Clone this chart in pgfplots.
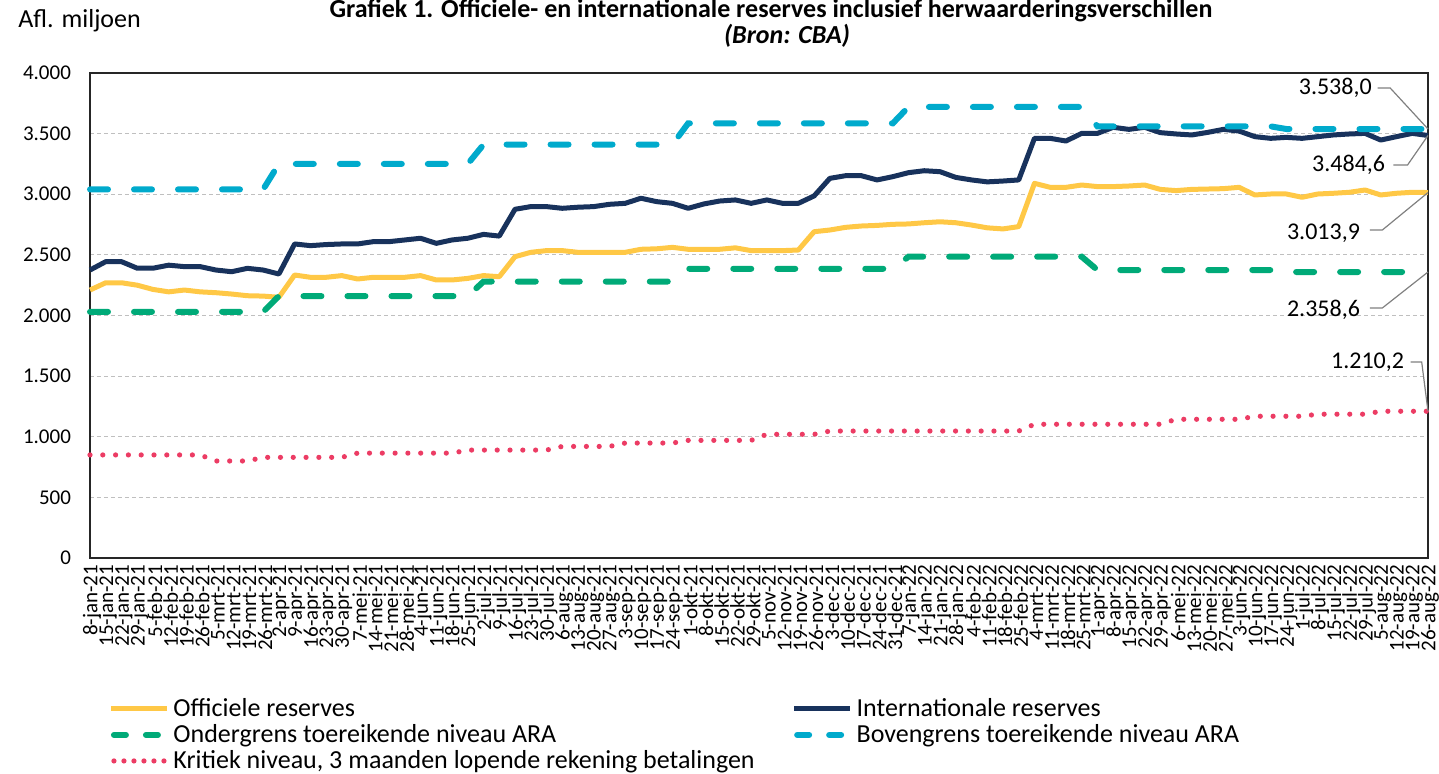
\documentclass[border=0pt]{standalone}
\usepackage{pgfplots}
\usepackage{pgfplotstable}
\pgfplotsset{compat=1.18}
\usepackage{fontspec}
\setmainfont{Carlito}

\definecolor{officieel}{RGB}{255,200,70}
\definecolor{internat}{RGB}{24,50,92}
\definecolor{onder}{RGB}{0,170,120}
\definecolor{boven}{RGB}{0,170,204}
\definecolor{kritiek}{RGB}{236,60,100}

\pgfplotsset{
  legsolid/.style={legend image code/.code={\draw[##1] (0pt,0pt) -- (28pt,0pt);}},
  legdash/.style={legend image code/.code={\draw[##1, dash pattern=on 6pt off 10pt] (1.5pt,0pt) -- (26.5pt,0pt);}},
  legdot/.style={legend image code/.code={\draw[##1, dash pattern=on 0pt off 5pt] (1.5pt,0pt) -- (27pt,0pt);}},
}

% weekly values, Afl. miljoen
\pgfplotstableread{
i  lab        off     int     ond     bov     krit
0  8-jan-21   2210    2375    2030    3040    850
1  15-jan-21  2270    2444    2030    3040    850
2  22-jan-21  2270    2444    2030    3040    850
3  29-jan-21  2250    2390    2030    3040    850
4  5-feb-21   2215    2390    2030    3040    850
5  12-feb-21  2195    2415    2030    3040    850
6  19-feb-21  2210    2403    2030    3040    850
7  26-feb-21  2195    2403    2030    3040    850
8  5-mrt-21   2188    2375    2030    3040    800
9  12-mrt-21  2177    2361    2030    3040    800
10 19-mrt-21  2163    2389    2030    3040    800
11 26-mrt-21  2160    2375    2030    3040    830
12 2-apr-21   2150    2342    2160    3250    830
13 9-apr-21   2334    2590    2160    3250    830
14 16-apr-21  2315    2576    2160    3250    830
15 23-apr-21  2315    2585    2160    3250    830
16 30-apr-21  2329    2590    2160    3250    830
17 7-mei-21   2301    2590    2160    3250    865
18 14-mei-21  2315    2609    2160    3250    865
19 21-mei-21  2315    2609    2160    3250    865
20 28-mei-21  2315    2623    2160    3250    865
21 4-jun-21   2329    2637    2160    3250    865
22 11-jun-21  2293    2595    2160    3250    865
23 18-jun-21  2293    2623    2160    3250    865
24 25-jun-21  2306    2637    2160    3250    890
25 2-jul-21   2329    2669    2280    3410    890
26 9-jul-21   2320    2655    2280    3410    890
27 16-jul-21  2485    2876    2280    3410    890
28 23-jul-21  2521    2898    2280    3410    890
29 30-jul-21  2535    2898    2280    3410    890
30 6-aug-21   2535    2884    2280    3410    920
31 13-aug-21  2521    2893    2280    3410    920
32 20-aug-21  2521    2898    2280    3410    920
33 27-aug-21  2521    2917    2280    3410    920
34 3-sep-21   2521    2925    2280    3410    948
35 10-sep-21  2546    2967    2280    3410    948
36 17-sep-21  2550    2939    2280    3410    948
37 24-sep-21  2562    2925    2280    3410    948
38 1-okt-21   2546    2884    2385    3585    970
39 8-okt-21   2546    2920    2385    3585    970
40 15-okt-21  2546    2944    2385    3585    970
41 22-okt-21  2558    2953    2385    3585    970
42 29-okt-21  2535    2925    2385    3585    970
43 5-nov-21   2535    2953    2385    3585    1020
44 12-nov-21  2535    2925    2385    3585    1020
45 19-nov-21  2540    2925    2385    3585    1020
46 26-nov-21  2691    2986    2385    3585    1020
47 3-dec-21   2705    3131    2385    3585    1047
48 10-dec-21  2727    3153    2385    3585    1047
49 17-dec-21  2738    3153    2385    3585    1047
50 24-dec-21  2743    3118    2385    3585    1047
51 31-dec-21  2752    3145    2385    3585    1047
52 7-jan-22   2755    3178    2485    3720    1047
53 14-jan-22  2765    3194    2485    3720    1047
54 21-jan-22  2773    3186    2485    3720    1047
55 28-jan-22  2765    3139    2485    3720    1047
56 4-feb-22   2746    3118    2485    3720    1047
57 11-feb-22  2723    3102    2485    3720    1047
58 18-feb-22  2714    3109    2485    3720    1047
59 25-feb-22  2733    3118    2485    3720    1047
60 4-mrt-22   3090    3461    2485    3720    1103
61 11-mrt-22  3057    3461    2485    3720    1103
62 18-mrt-22  3057    3439    2485    3720    1103
63 25-mrt-22  3076    3502    2485    3720    1103
64 1-apr-22   3063    3502    2375    3560    1103
65 8-apr-22   3063    3552    2375    3560    1103
66 15-apr-22  3068    3535    2375    3560    1103
67 22-apr-22  3076    3552    2375    3560    1103
68 29-apr-22  3040    3508    2375    3560    1103
69 6-mei-22   3030    3497    2375    3560    1144
70 13-mei-22  3040    3489    2375    3560    1144
71 20-mei-22  3043    3510    2375    3560    1144
72 27-mei-22  3046    3535    2375    3560    1144
73 3-jun-22   3057    3521    2375    3560    1144
74 10-jun-22  2994    3475    2375    3560    1169
75 17-jun-22  3002    3461    2375    3560    1169
76 24-jun-22  3002    3469    2358.6  3538    1169
77 1-jul-22   2975    3461    2358.6  3538    1169
78 8-jul-22   3002    3475    2358.6  3538    1186
79 15-jul-22  3008    3489    2358.6  3538    1186
80 22-jul-22  3016    3497    2358.6  3538    1186
81 29-jul-22  3035    3502    2358.6  3538    1186
82 5-aug-22   2994    3447    2358.6  3538    1210.2
83 12-aug-22  3008    3475    2358.6  3538    1210.2
84 19-aug-22  3016    3502    2358.6  3538    1210.2
85 26-aug-22  3013.9  3484.6  2358.6  3538.0  1210.2
}\reserves

\begin{document}
\begin{tikzpicture}
\begin{axis}[
    at={(0pt,0pt)}, anchor=south west,
    scale only axis,
    width=669pt, height=242.5pt,
    xmin=0, xmax=85,
    ymin=0, ymax=4000,
    clip=false,
    xtick={0,...,85},
    xticklabels from table={\reserves}{lab},
    xticklabel style={rotate=90, anchor=east, font=\fontsize{10.5}{12}\selectfont, yshift=-1pt},
    ytick={0,500,...,4000},
    yticklabel style={font=\fontsize{10.5}{12}\selectfont, xshift=-6pt},
    /pgf/number format/assume math mode=true,
    /pgf/number format/1000 sep={.},
    scaled y ticks=false,
    major tick length=0pt,
    ymajorgrids,
    grid style={gray!50, line width=0.6pt, dash pattern=on 2pt off 1.5pt},
    axis line style={black!85, line width=1.1pt},
    legend columns=2,
    legend cell align=left,
    legend style={at={(0.009,-0.272)}, anchor=north west, draw=none, fill=none,
        font=\fontsize{13}{13}\selectfont, row sep=-1.5pt,
        /tikz/every even column/.append style={column sep=16.5pt}},
]

\addplot[officieel, line width=2.5pt, line join=round, legsolid]
    table[x=i, y=off] {\reserves};
\addlegendentry{Officiele reserves}

\addplot[internat, line width=2.5pt, line join=round, legsolid]
    table[x=i, y=int] {\reserves};
\addlegendentry{Internationale reserves}

\addplot[onder, line width=3pt, line cap=round, dash pattern=on 9pt off 13pt, legdash]
    table[x=i, y=ond] {\reserves};
\addlegendentry{Ondergrens toereikende niveau ARA}

\addplot[boven, line width=3pt, line cap=round, dash pattern=on 9pt off 13pt, legdash]
    table[x=i, y=bov] {\reserves};
\addlegendentry{Bovengrens toereikende niveau ARA}

\addplot[kritiek, line width=2.6pt, line cap=round, dash pattern=on 0pt off 6.4pt, legdot]
    table[x=i, y=krit] {\reserves};
\addlegendentry{Kritiek niveau, 3 maanden lopende rekening betalingen}

% data labels with leader lines
\begin{scope}[every node/.style={font=\fontsize{12}{12}\selectfont, inner sep=0pt, anchor=east}]
\draw[gray, line width=0.6pt] (axis cs:81.8,3876) -- (axis cs:82.6,3876) -- (axis cs:85,3538);
\node at (axis cs:81.45,3876) {3.538,0};
\draw[gray, line width=0.6pt] (axis cs:82.8,3241) -- (axis cs:83.7,3241) -- (axis cs:85,3484.6);
\node at (axis cs:82.3,3241) {3.484,6};
\draw[gray, line width=0.6pt] (axis cs:81.3,2705) -- (axis cs:82.1,2705) -- (axis cs:85,3013.9);
\node at (axis cs:80.7,2680) {3.013,9};
\draw[gray, line width=0.6pt] (axis cs:81.3,2062) -- (axis cs:82.1,2062) -- (axis cs:85,2358.6);
\node at (axis cs:80.7,2045) {2.358,6};
\draw[gray, line width=0.6pt] (axis cs:83.9,1616) -- (axis cs:84.6,1616) -- (axis cs:85,1210.2);
\node at (axis cs:83.5,1616) {1.210,2};
\end{scope}
\end{axis}

\node[anchor=base west, inner sep=0pt, font=\fontsize{13}{13}\selectfont] at (-36pt,265pt) {Afl. miljoen};
\node[anchor=base, font=\bfseries\fontsize{13}{13}\selectfont] at (340.5pt,270pt)
    {Grafiek 1. Officiele- en internationale reserves inclusief herwaarderingsverschillen};
\node[font=\bfseries\itshape\fontsize{13}{13}\selectfont] at (348.5pt,261pt) {(Bron: CBA)};

\pgfresetboundingbox
\path[use as bounding box] (-45pt,-108pt) rectangle (674.5pt,279pt);
\end{tikzpicture}
\end{document}
